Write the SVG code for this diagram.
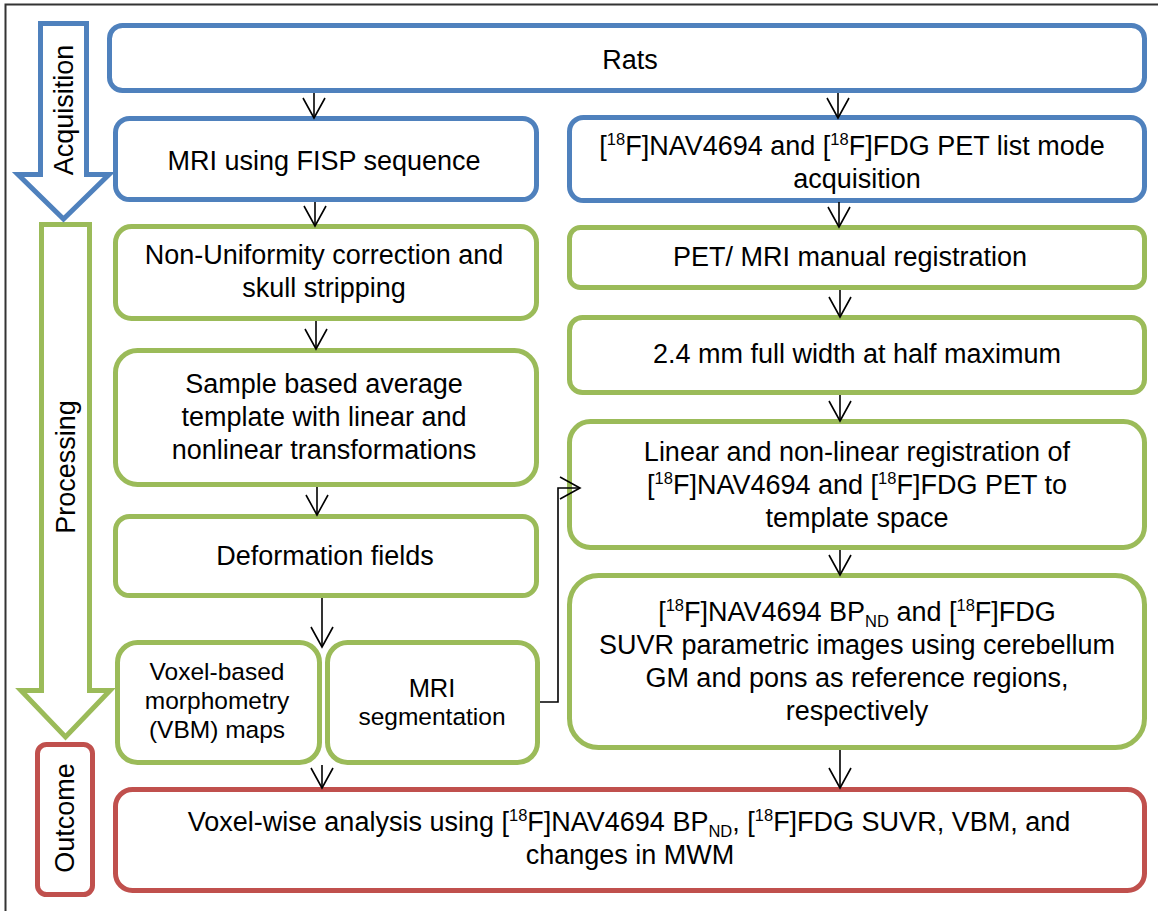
<svg xmlns="http://www.w3.org/2000/svg" width="1161" height="911" viewBox="0 0 1161 911">
<style>
.bl{fill:#fff;stroke:#4F81BD;stroke-width:5}
.gr{fill:#fff;stroke:#9BBB59;stroke-width:5}
.rd{fill:#fff;stroke:#C0504D;stroke-width:5}
text{font-family:"Liberation Sans",Arial,sans-serif;font-size:27px;fill:#000;text-anchor:middle}
.sm{font-size:24.5px}
.sup{font-size:16.5px}
.con{fill:none;stroke:#000;stroke-width:1.6}
</style>
<defs>
<marker id="arr" markerUnits="userSpaceOnUse" markerWidth="26" markerHeight="28" viewBox="-3 -14 26 28" refX="20" refY="0" orient="auto" overflow="visible">
<path d="M0,-11 L20,0 L0,11" fill="none" stroke="#000" stroke-width="1.6"/>
</marker>
</defs>
<rect width="1161" height="911" fill="#fff"/>
<path d="M5.5,911 V4.5 H1158" fill="none" stroke="#333" stroke-width="2"/>

<g id="processing">
<polygon class="gr" points="41.5,224.5 89.5,224.5 89.5,690.5 110,690.5 65.5,737 21,690.5 41.5,690.5"/>
<text transform="translate(75,467) rotate(-90)">Processing</text>
</g>
<g id="acquisition">
<polygon class="bl" points="40.5,23.5 86.5,23.5 86.5,174.5 109,174.5 63.5,219 18,174.5 40.5,174.5"/>
<text transform="translate(73,110) rotate(-90)">Acquisition</text>
</g>
<g id="outcome">
<rect class="rd" x="37.5" y="744.5" width="55" height="150" rx="9"/>
<text transform="translate(74,818) rotate(-90)">Outcome</text>
</g>

<g id="rats">
<rect class="bl" x="109.5" y="25.5" width="1035" height="65" rx="13"/>
<text x="630" y="69">Rats</text>
</g>
<g id="mri">
<rect class="bl" x="115.5" y="118.5" width="421" height="81" rx="14"/>
<text x="324" y="170">MRI using FISP sequence</text>
</g>
<g id="pet">
<rect class="bl" x="569.5" y="117.5" width="575" height="83" rx="14"/>
<text x="852" y="155">[<tspan class="sup" dy="-10">18</tspan><tspan dy="10">F]NAV4694 and [</tspan><tspan class="sup" dy="-10">18</tspan><tspan dy="10">F]FDG PET list mode</tspan></text>
<text x="857" y="188">acquisition</text>
</g>
<g id="nonuniformity">
<rect class="gr" x="115.5" y="226.5" width="421" height="92" rx="16"/>
<text x="324" y="264">Non-Uniformity correction and</text>
<text x="324" y="297">skull stripping</text>
</g>
<g id="petmri">
<rect class="gr" x="569.5" y="227.5" width="575" height="60" rx="11"/>
<text x="850" y="266">PET/ MRI manual registration</text>
</g>
<g id="sample">
<rect class="gr" x="115.5" y="350.5" width="421" height="134" rx="22"/>
<text x="324" y="393">Sample based average</text>
<text x="324" y="426">template with linear and</text>
<text x="324" y="459">nonlinear transformations</text>
</g>
<g id="fwhm">
<rect class="gr" x="569.5" y="317.5" width="575" height="75" rx="13"/>
<text x="857" y="363">2.4 mm full width at half maximum</text>
</g>
<g id="linear">
<rect class="gr" x="569.5" y="421.5" width="575" height="126" rx="21"/>
<text x="857" y="461">Linear and non-linear registration of</text>
<text x="857" y="494">[<tspan class="sup" dy="-10">18</tspan><tspan dy="10">F]NAV4694 and [</tspan><tspan class="sup" dy="-10">18</tspan><tspan dy="10">F]FDG PET to</tspan></text>
<text x="857" y="527">template space</text>
</g>
<g id="deformation">
<rect class="gr" x="115.5" y="516.5" width="421" height="79" rx="14"/>
<text x="325" y="565">Deformation fields</text>
</g>
<g id="bpnd">
<rect class="gr" x="569.5" y="575.5" width="575" height="172" rx="29"/>
<text x="857" y="621">[<tspan class="sup" dy="-10">18</tspan><tspan dy="10">F]NAV4694 BP</tspan><tspan class="sup" dy="6">ND</tspan><tspan dy="-6"> and [</tspan><tspan class="sup" dy="-10">18</tspan><tspan dy="10">F]FDG</tspan></text>
<text x="857" y="654">SUVR parametric images using cerebellum</text>
<text x="857" y="687">GM and pons as reference regions,</text>
<text x="857" y="720">respectively</text>
</g>
<g id="vbm">
<rect class="gr" x="117.5" y="642.5" width="202" height="120" rx="20"/>
<text class="sm" x="217" y="680">Voxel-based</text>
<text class="sm" x="217" y="709">morphometry</text>
<text class="sm" x="217" y="738">(VBM) maps</text>
</g>
<g id="segmentation">
<rect class="gr" x="327.5" y="642.5" width="210" height="120" rx="20"/>
<text x="432" y="697" style="font-size:25.5px">MRI</text>
<text class="sm" x="432" y="725">segmentation</text>
</g>
<g id="analysis">
<rect class="rd" x="115.5" y="789.5" width="1029" height="101" rx="17"/>
<text x="629" y="831">Voxel-wise analysis using [<tspan class="sup" dy="-10">18</tspan><tspan dy="10">F]NAV4694 BP</tspan><tspan class="sup" dy="6">ND</tspan><tspan dy="-6">, [</tspan><tspan class="sup" dy="-10">18</tspan><tspan dy="10">F]FDG SUVR, VBM, and</tspan></text>
<text x="630" y="864">changes in MWM</text>
</g>

<g id="connectors" class="con">
<path class="con" d="M314,93 V118" marker-end="url(#arr)"/>
<path class="con" d="M838,93 V118" marker-end="url(#arr)"/>
<path class="con" d="M315,202 V226" marker-end="url(#arr)"/>
<path class="con" d="M839,202 V227" marker-end="url(#arr)"/>
<path class="con" d="M316,321 V349" marker-end="url(#arr)"/>
<path class="con" d="M840,290 V317" marker-end="url(#arr)"/>
<path class="con" d="M317,487 V515" marker-end="url(#arr)"/>
<path class="con" d="M840,395 V421" marker-end="url(#arr)"/>
<path class="con" d="M840,550 V575" marker-end="url(#arr)"/>
<path class="con" d="M322,598 V647" marker-end="url(#arr)"/>
<path class="con" d="M540,702 H558 V488 H580" marker-end="url(#arr)"/>
<path class="con" d="M322,765 V788" marker-end="url(#arr)"/>
<path class="con" d="M840,750 V788" marker-end="url(#arr)"/>
</g>
</svg>
